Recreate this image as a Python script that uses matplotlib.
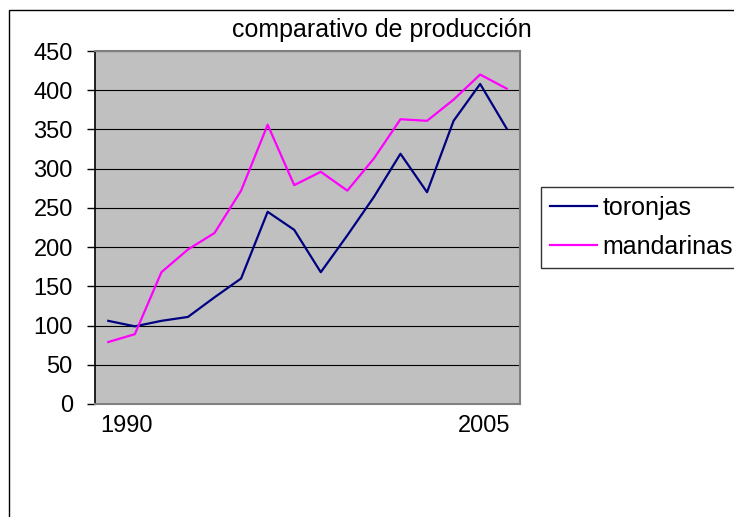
import numpy as np
import matplotlib
matplotlib.use("Agg")
import matplotlib.pyplot as plt
from matplotlib.patches import Rectangle

plt.rcParams['font.family'] = ['Liberation Sans', 'DejaVu Sans']

# data (16 categories, only two labelled)
toronjas = [106, 99, 106, 111, 136, 160, 245, 222, 168, 215, 264, 319, 270, 361, 408, 351]
mandarinas = [79, 89, 168, 197, 218, 272, 356, 279, 296, 272, 313, 363, 361, 388, 420, 402]
xlabels = ["1990", "2005"]
xlabel_pos = [0.67, 14.15]
yticks = np.arange(0, 451, 50)

dpi = 100
fig = plt.figure(figsize=(7.34, 5.17), dpi=dpi)
W, H = 734, 517

# outer chart border
fig.patches.append(Rectangle((9 / W, -0.1), 1.0, (H - 10) / H + 0.1,
                             transform=fig.transFigure, fill=False,
                             edgecolor='black', lw=1, clip_on=False))

ax = fig.add_axes([95 / W, (H - 404) / H, 425 / W, 353 / H])
ax.set_facecolor('#C0C0C0')

x = np.arange(len(toronjas))
ax.plot(x, toronjas, color='#000080', lw=1.6, label='toronjas')
ax.plot(x, mandarinas, color='#FF00FF', lw=1.6, label='mandarinas')

ax.set_xlim(-0.5, len(toronjas) - 0.5)
ax.set_ylim(0, 450)
ax.set_yticks(yticks)
ax.yaxis.grid(True, color='black', lw=0.8)
ax.set_axisbelow(True)
ax.set_xticks(xlabel_pos)
ax.set_xticklabels(xlabels)
ax.tick_params(axis='x', length=0, pad=8, labelsize=17)
ax.tick_params(axis='y', length=6, width=1, pad=10, labelsize=17, direction='out')

for s in ['top', 'right', 'bottom']:
    ax.spines[s].set_color('#808080')
    ax.spines[s].set_linewidth(1.5)
ax.spines['left'].set_color('black')
ax.spines['left'].set_linewidth(1.2)

fig.text(382 / W, 1 - 30 / H, "comparativo de producción", ha='center', va='center', fontsize=18)

leg = fig.legend(loc='upper left', bbox_to_anchor=(541 / W, 1 - 187 / H), borderaxespad=0,
                 fontsize=18, handlelength=1.9, handletextpad=0.2, borderpad=0.35,
                 labelspacing=0.6, fancybox=False, frameon=True)
leg.get_frame().set_edgecolor('black')
leg.get_frame().set_linewidth(1)

fig.savefig('out.png', dpi=dpi)
